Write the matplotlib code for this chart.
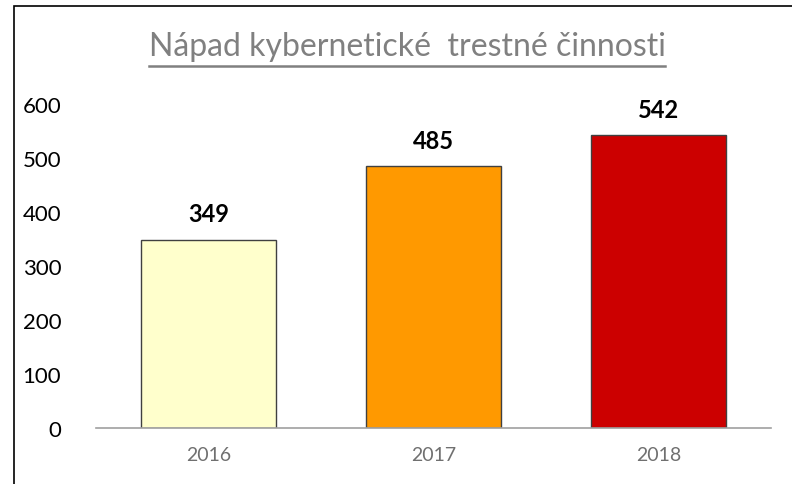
import matplotlib.pyplot as plt
from matplotlib.patches import Rectangle

years = ["2016", "2017", "2018"]
values = [349, 485, 542]
colors = ["#FFFFCC", "#FF9900", "#CC0000"]
title = "Nápad kybernetické  trestné činnosti"

plt.rcParams['font.family'] = ['Lato', 'DejaVu Sans']

fig = plt.figure(figsize=(7.92, 4.85), dpi=100)
ax = fig.add_axes([96 / 792, 1 - 429 / 485, 675 / 792, 324 / 485])

x = range(len(years))
bars = ax.bar(x, values, width=0.6, color=colors, edgecolor="#404040", linewidth=1)

for b, v in zip(bars, values):
    ax.text(b.get_x() + b.get_width() / 2, v + 48, str(v), ha="center", va="center",
            fontsize=17, fontweight="bold", color="black", clip_on=False)

ax.set_xlim(-0.5, 2.5)
ax.set_ylim(0, 600)
ax.set_yticks(range(0, 601, 100))
ax.set_xticks(list(x))
ax.set_xticklabels(years, color="#707070", fontsize=14)
ax.tick_params(axis="y", length=0, labelsize=16, pad=25, colors="black")
ax.tick_params(axis="x", length=0, pad=13)
for s in ["top", "right", "left"]:
    ax.spines[s].set_visible(False)
ax.spines["bottom"].set_color("#A0A0A0")
ax.spines["bottom"].set_linewidth(1.2)

t = fig.text(407 / 792, 1 - 47 / 485, title, ha="center", va="center",
             fontsize=23, color="#808080")

# underline under the title
fig.canvas.draw()
bb = t.get_window_extent()
fig.add_artist(plt.Line2D([bb.x0 / 792, bb.x1 / 792], [1 - 67 / 485, 1 - 67 / 485],
                          color="#808080", linewidth=1.8))

# outer chart border: left and top edges only are inside the image
fig.add_artist(Rectangle((14 / 792, -0.1), 1.0, 1.1 - 7 / 485,
                         fill=False, edgecolor="black", linewidth=1.2,
                         transform=fig.transFigure))

fig.savefig("out.png", dpi=100)
